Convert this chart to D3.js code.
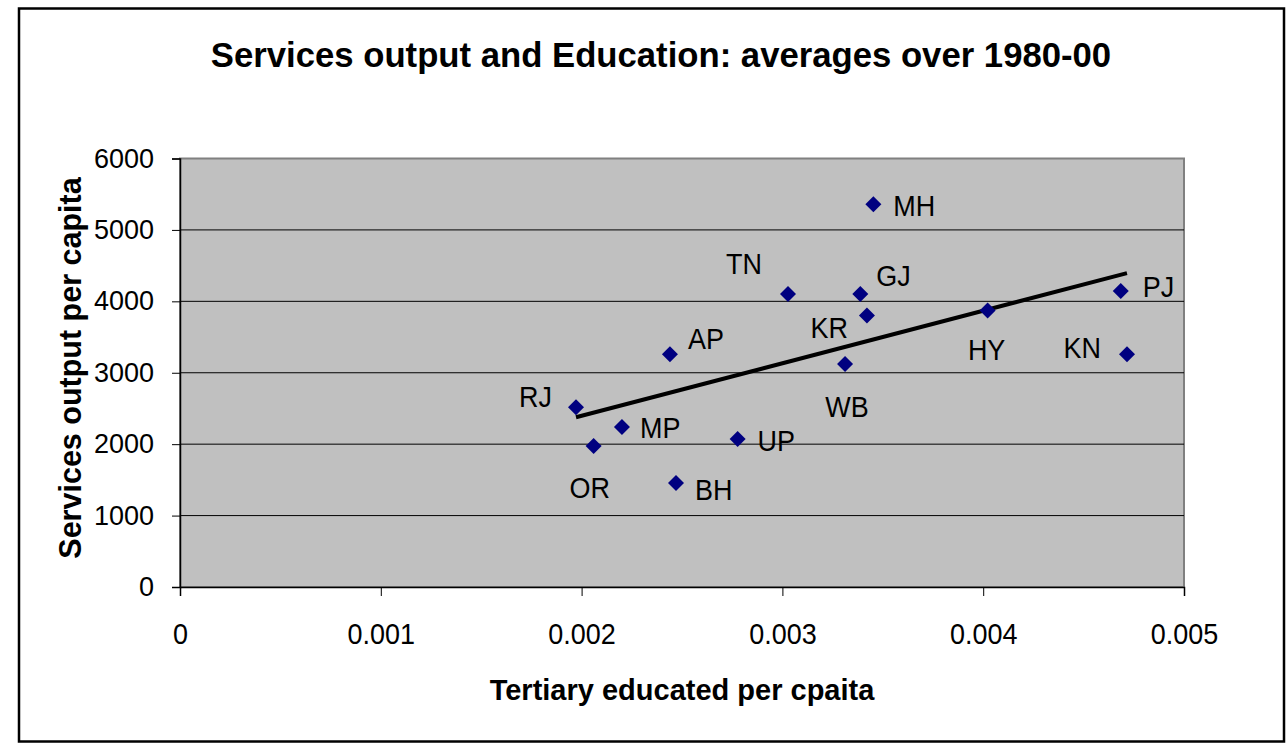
<!DOCTYPE html>
<html>
<head>
<meta charset="utf-8">
<script src="https://cdn.jsdelivr.net/npm/d3@7"></script>
<style>
  html, body { margin: 0; padding: 0; background: #fff; }
  svg { display: block; font-family: "Liberation Sans", Arial, sans-serif; }
</style>
</head>
<body>
<svg id="chart" width="1288" height="745"></svg>
<script>
// ---- Data ----
const states = ["MH","TN","GJ","KR","AP","WB","RJ","MP","OR","UP","BH","PJ","HY","KN"];
const tertiaryPerCapita = [0.003453,0.003028,0.003388,0.003421,0.002440,0.003312,0.001972,0.002201,0.002060,0.002777,0.002470,0.004685,0.004022,0.004716];
const servicesPerCapita = [5360,4104,4104,3800,3259,3123,2517,2241,1975,2073,1457,4146,3870,3259];
const xTicks = [0,0.001,0.002,0.003,0.004,0.005];
const xTickLabels = ["0","0.001","0.002","0.003","0.004","0.005"];
const yTicks = [0,1000,2000,3000,4000,5000,6000];
const yTickLabels = ["0","1000","2000","3000","4000","5000","6000"];
const titleText = "Services output and Education: averages over 1980-00";
const xTitle = "Tertiary educated per cpaita";
const yTitle = "Services output per capita";

// ---- Label layout (anchor, dx, dy relative to the marker) ----
const labelLayout = {
  MH:["start",20,12], TN:["end",-26,-20], GJ:["start",16,-8], KR:["end",-19,22],
  AP:["start",18,-5], WB:["middle",2,53], RJ:["end",-24,0], MP:["start",18,11],
  OR:["middle",-4,52], UP:["start",20,12], BH:["start",19,17], PJ:["start",22,6],
  HY:["middle",-1,49], KN:["end",-26,4]
};
const SX = 0.93; // slight horizontal condensation of text, as in the reference

const svg = d3.select("#chart");
const L = 180, R = 1184, T = 158.5, B = 587;
const x = d3.scaleLinear().domain([0, 0.005]).range([L, R]);
const y = d3.scaleLinear().domain([0, 6000]).range([B, T]);

// outer frame
svg.append("rect").attr("x", 19).attr("y", 8.5).attr("width", 1265).attr("height", 733)
  .attr("fill", "#fff").attr("stroke", "#000").attr("stroke-width", 2.5);

// plot area
svg.append("rect").attr("x", L).attr("y", T).attr("width", R - L).attr("height", B - T)
  .attr("fill", "#c0c0c0").attr("stroke", "#808080").attr("stroke-width", 2);

// gridlines
svg.append("g").selectAll("line").data(yTicks.filter(v => v > 0 && v < 6000)).join("line")
  .attr("x1", L).attr("x2", R).attr("y1", d => y(d)).attr("y2", d => y(d))
  .attr("stroke", "#000").attr("stroke-width", 1);

// axes
const xAxis = d3.axisBottom(x).tickValues(xTicks).tickFormat((d, i) => xTickLabels[i]).tickSize(9).tickPadding(27);
const gx = svg.append("g").attr("transform", `translate(0,${B})`).call(xAxis);
gx.select(".domain").attr("stroke", "#000").attr("stroke-width", 1.5);
gx.selectAll(".tick line").attr("stroke", "#000").attr("stroke-width", 1);
gx.selectAll(".tick text").attr("font-size", 29).attr("fill", "#000")
  .attr("font-family", "Liberation Sans, Arial, sans-serif")
  .attr("transform", `scale(${SX},1)`);

const yAxis = d3.axisLeft(y).tickValues(yTicks).tickFormat((d, i) => yTickLabels[i]).tickSize(8).tickPadding(18);
const gy = svg.append("g").attr("transform", `translate(${L},0)`).call(yAxis);
gy.select(".domain").attr("stroke", "#000").attr("stroke-width", 1.5);
gy.selectAll(".tick line").attr("stroke", "#000").attr("stroke-width", 1);
gy.selectAll(".tick text").attr("font-size", 27).attr("fill", "#000")
  .attr("font-family", "Liberation Sans, Arial, sans-serif");

// linear trend line (least squares)
const n = states.length;
const mx = d3.mean(tertiaryPerCapita), my = d3.mean(servicesPerCapita);
let sxy = 0, sxx = 0;
for (let i = 0; i < n; i++) {
  sxy += (tertiaryPerCapita[i] - mx) * (servicesPerCapita[i] - my);
  sxx += (tertiaryPerCapita[i] - mx) ** 2;
}
const slope = sxy / sxx, intercept = my - slope * mx;
const [xmin, xmax] = d3.extent(tertiaryPerCapita);
svg.append("line")
  .attr("x1", x(xmin)).attr("y1", y(intercept + slope * xmin))
  .attr("x2", x(xmax)).attr("y2", y(intercept + slope * xmax))
  .attr("stroke", "#000").attr("stroke-width", 4);

// markers
const pts = states.map((s, i) => ({ s, xv: tertiaryPerCapita[i], yv: servicesPerCapita[i] }));
const diamond = "M0,-8L8,0L0,8L-8,0Z";
svg.append("g").selectAll("path").data(pts).join("path")
  .attr("d", diamond)
  .attr("transform", d => `translate(${x(d.xv)},${y(d.yv)})`)
  .attr("fill", "#000080");

// labels
svg.append("g").selectAll("text").data(pts).join("text")
  .attr("transform", d => `translate(${x(d.xv) + labelLayout[d.s][1]},${y(d.yv) + labelLayout[d.s][2]}) scale(${SX},1)`)
  .attr("text-anchor", d => labelLayout[d.s][0])
  .attr("font-size", 29).attr("fill", "#000")
  .text(d => d.s);

// titles
svg.append("text").attr("x", 661).attr("y", 67).attr("text-anchor", "middle")
  .attr("font-size", 34.7).attr("font-weight", "bold").text(titleText);
svg.append("text").attr("x", 682).attr("y", 700).attr("text-anchor", "middle")
  .attr("font-size", 29).attr("font-weight", "bold").text(xTitle);
svg.append("text").attr("transform", "translate(81,368) rotate(-90)").attr("text-anchor", "middle")
  .attr("font-size", 30.5).attr("font-weight", "bold").text(yTitle);
</script>
</body>
</html>
